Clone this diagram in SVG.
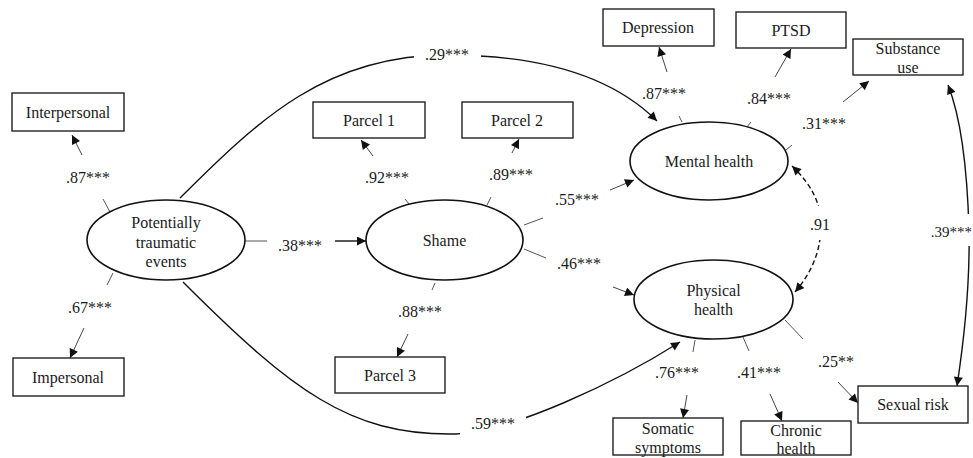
<svg xmlns="http://www.w3.org/2000/svg" width="973" height="458" viewBox="0 0 973 458">
<defs>
<marker id="ah" viewBox="0 0 10 10" refX="10" refY="5" markerWidth="10" markerHeight="9" markerUnits="userSpaceOnUse" orient="auto-start-reverse">
<path d="M0,0 L10,5 L0,10 z" fill="#111"/>
</marker>
<style>
text{font-family:"Liberation Serif","Times New Roman",serif;font-size:16px;fill:#1a1a1a;text-anchor:middle}
.box{fill:#fff;stroke:#222;stroke-width:1.4}
.lat{fill:#fff;stroke:#111;stroke-width:1.6}
.tick{stroke:#555;stroke-width:1;fill:none}
.ld{stroke:#444;stroke-width:1;fill:none;marker-end:url(#ah)}
.path{stroke:#111;stroke-width:1.4;fill:none;marker-end:url(#ah)}
.dash{stroke:#111;stroke-width:1.4;fill:none;stroke-dasharray:5 3;marker-start:url(#ah);marker-end:url(#ah)}
.bg{fill:#fff;stroke:none}
</style>
</defs>
<rect width="973" height="458" fill="#fff"/>

<g id="connectors">
<path class="path" d="M180,198 C260,118 327,55 447,55 C527,55 607,71 657,121"/>
<rect class="bg" x="414" y="44" width="67" height="22"/>
<text x="447" y="60">.29***</text>

<path class="path" d="M183,282 C293,392 350,434 450,434 C510,434 620,380 680,342"/>
<rect class="bg" x="460" y="414" width="66" height="22"/>
<text x="493" y="429">.59***</text>

<path class="path" d="M957,386 C964,340 970,280 969,230 C967,160 960,115 948,85" style="marker-start:url(#ah)"/>
<rect class="bg" x="930" y="214" width="43" height="32"/>
<text x="972" y="237" style="text-anchor:end;font-size:15px">.39***</text>

<path class="dash" d="M792,166 C812,185 822,205 821,228 C820,252 812,272 795,292"/>
<rect class="bg" x="808" y="206" width="26" height="34"/>
<text x="820" y="230">.91</text>

<line class="tick" x1="103" y1="199" x2="110" y2="212"/>
<line class="ld" x1="82" y1="155" x2="72" y2="135"/>
<text x="88" y="183">.87***</text>
<line class="tick" x1="113" y1="273" x2="107" y2="285"/>
<line class="ld" x1="84" y1="328" x2="70" y2="358"/>
<text x="90" y="313">.67***</text>

<line class="tick" x1="245" y1="241" x2="267" y2="241"/>
<line class="path" x1="335" y1="241" x2="366" y2="241"/>
<text x="300" y="251">.38***</text>

<line class="tick" x1="405" y1="199" x2="409" y2="204"/>
<line class="ld" x1="373" y1="156" x2="361" y2="140"/>
<text x="387" y="183">.92***</text>
<line class="tick" x1="491" y1="197" x2="487" y2="205"/>
<line class="ld" x1="512" y1="153" x2="519" y2="139"/>
<text x="511" y="180">.89***</text>
<line class="tick" x1="435" y1="283" x2="432" y2="290"/>
<line class="ld" x1="408" y1="334" x2="397" y2="357"/>
<text x="420" y="317">.88***</text>

<line class="tick" x1="524" y1="225" x2="543" y2="218"/>
<line class="ld" x1="610" y1="190" x2="634" y2="180"/>
<text x="577" y="205">.55***</text>
<line class="tick" x1="524" y1="249" x2="546" y2="258"/>
<line class="ld" x1="613" y1="287" x2="634" y2="295"/>
<text x="579" y="269">.46***</text>

<line class="tick" x1="679" y1="116" x2="682" y2="122"/>
<line class="ld" x1="667" y1="72" x2="659" y2="47"/>
<text x="664" y="99">.87***</text>
<line class="tick" x1="751" y1="122" x2="747" y2="127"/>
<line class="ld" x1="775" y1="77" x2="791" y2="49"/>
<text x="769" y="104">.84***</text>
<line class="tick" x1="792" y1="145" x2="786" y2="150"/>
<line class="ld" x1="843" y1="102" x2="869" y2="81"/>
<text x="824" y="129">.31***</text>

<line class="tick" x1="695" y1="340" x2="693" y2="352"/>
<line class="ld" x1="687" y1="395" x2="683" y2="418"/>
<text x="677" y="378">.76***</text>
<line class="tick" x1="743" y1="337" x2="749" y2="351"/>
<line class="ld" x1="770" y1="394" x2="782" y2="421"/>
<text x="759" y="378">.41***</text>
<line class="tick" x1="785" y1="320" x2="803" y2="339"/>
<line class="ld" x1="838" y1="382" x2="858" y2="403"/>
<text x="836" y="367">.25**</text>
</g>

<g id="pte"><ellipse class="lat" cx="166" cy="240" rx="79" ry="40"/>
<text x="166" y="228">Potentially</text><text x="166" y="247.5">traumatic</text><text x="166" y="267">events</text></g>
<g id="shame"><ellipse class="lat" cx="444.5" cy="240" rx="78.5" ry="40"/><text x="444.5" y="246">Shame</text></g>
<g id="mental"><ellipse class="lat" cx="709" cy="161" rx="79" ry="39"/><text x="709" y="167">Mental health</text></g>
<g id="physical"><ellipse class="lat" cx="713.5" cy="299.5" rx="79.5" ry="39.5"/>
<text x="713.5" y="296">Physical</text><text x="713.5" y="315">health</text></g>

<g id="interpersonal"><rect class="box" x="12" y="93" width="112" height="38"/><text x="68" y="118">Interpersonal</text></g>
<g id="impersonal"><rect class="box" x="13" y="358" width="111" height="38"/><text x="68" y="383">Impersonal</text></g>
<g id="parcel1"><rect class="box" x="313" y="102" width="112" height="36"/><text x="369" y="126">Parcel 1</text></g>
<g id="parcel2"><rect class="box" x="462" y="102" width="111" height="36"/><text x="517" y="126">Parcel 2</text></g>
<g id="parcel3"><rect class="box" x="335" y="357" width="110" height="36"/><text x="390" y="381">Parcel 3</text></g>
<g id="depression"><rect class="box" x="603" y="9" width="111" height="37"/><text x="658" y="33">Depression</text></g>
<g id="ptsd"><rect class="box" x="736" y="12" width="110" height="36"/><text x="791" y="36">PTSD</text></g>
<g id="substance"><rect class="box" x="853" y="39" width="110" height="36"/><text x="908" y="54">Substance</text><text x="908" y="73">use</text></g>
<g id="sexual"><rect class="box" x="858" y="386" width="110" height="37"/><text x="913" y="410">Sexual risk</text></g>
<g id="somatic"><rect class="box" x="613" y="418" width="110" height="37"/><text x="668" y="434">Somatic</text><text x="668" y="453">symptoms</text></g>
<g id="chronic"><rect class="box" x="741" y="421" width="110" height="34"/><text x="796" y="436">Chronic</text><text x="796" y="454">health</text></g>
</svg>
